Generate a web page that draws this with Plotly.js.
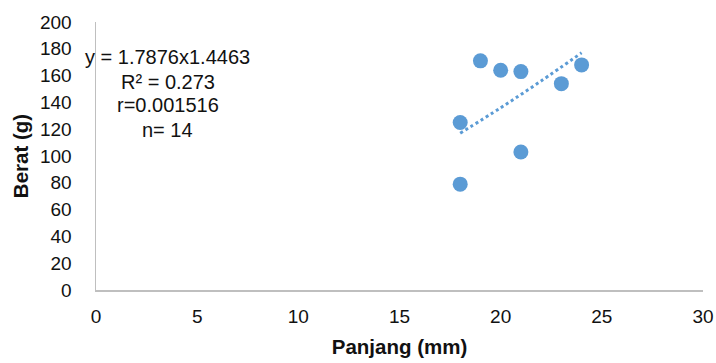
<!DOCTYPE html>
<html>
<head>
<meta charset="utf-8">
<script src="https://cdn.plot.ly/plotly-3.0.1.min.js"></script>
<style>
html,body{margin:0;padding:0;background:#fff;}
#chart{width:716px;height:363px;}
</style>
</head>
<body>
<div id="chart"></div>
<script>
// Observed points (Panjang mm, Berat g)
var panjang = [18, 18, 19, 20, 21, 21, 23, 24];
var berat   = [125, 79, 171, 164, 163, 103, 154, 168];

// Power trendline
var trendX = [18, 20, 22, 24];
var trendY = [117, 136, 156, 177];

var eqLines = ["y = 1.7876x1.4463", "R\u00b2 = 0.273", "r=0.001516", "n= 14"];
var eqY = [174, 155.5, 138.3, 119.7];

var xTicks = [0, 5, 10, 15, 20, 25, 30];
var yTicks = [0, 20, 40, 60, 80, 100, 120, 140, 160, 180, 200];

var font = "Liberation Sans, Arial, sans-serif";
var blue = "#5b9bd5";
var ink = "#111";

var traces = [
  {
    x: trendX, y: trendY, mode: "lines", type: "scatter",
    line: {color: blue, width: 3, dash: "dot", shape: "spline"},
    hoverinfo: "skip", showlegend: false
  },
  {
    x: panjang, y: berat, mode: "markers", type: "scatter",
    marker: {color: blue, size: 15},
    showlegend: false
  }
];

var annotations = eqLines.map(function(t, i){
  return {
    text: t, x: 3.55, y: eqY[i], xref: "x", yref: "y",
    showarrow: false, xanchor: "center", yanchor: "middle",
    font: {family: font, size: 20, color: ink}
  };
});

var layout = {
  width: 716, height: 363,
  margin: {l: 96, r: 13, t: 22, b: 72.5},
  paper_bgcolor: "#fff", plot_bgcolor: "#fff",
  font: {family: font, size: 19, color: ink},
  xaxis: {
    range: [0, 30], tickvals: xTicks, ticktext: xTicks.map(String),
    showgrid: false, zeroline: false, showline: true,
    linecolor: "#bfbfbf", linewidth: 1.5, ticks: "",
    ticklabelstandoff: 9, ticklabeloverflow: "allow",
    tickfont: {family: font, size: 19, color: ink},
    title: {text: "Panjang (mm)", standoff: 13, font: {family: font, size: 20.5, color: ink, weight: "bold"}}
  },
  yaxis: {
    range: [0, 200], tickvals: yTicks, ticktext: yTicks.map(String),
    showgrid: false, zeroline: false, showline: true,
    linecolor: "#bfbfbf", linewidth: 1.5, ticks: "",
    ticklabelstandoff: 19, ticklabeloverflow: "allow",
    tickfont: {family: font, size: 19, color: ink},
    title: {text: "Berat (g)", standoff: 6, font: {family: font, size: 20.5, color: ink, weight: "bold"}}
  },
  annotations: annotations
};

Plotly.newPlot("chart", traces, layout, {displayModeBar: false, staticPlot: true});
</script>
</body>
</html>
